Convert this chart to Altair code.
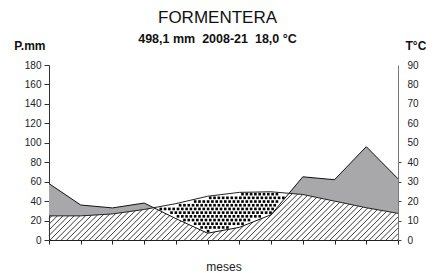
import altair as alt
import numpy as np
import pandas as pd

# ---- data ----
months = list(range(1, 13))
precip_mm = [58, 36, 33, 38, 22, 7, 13, 26, 65, 62, 96, 63]
temp_c = [12.4, 12.4, 13.4, 15.7, 18.7, 22.5, 24.5, 24.8, 23.4, 20.0, 16.6, 13.7]
p_ticks = list(range(0, 181, 20))
t_ticks = list(range(0, 91, 10))
title_text = "FORMENTERA"
subtitle_text = "498,1 mm\u00a0 2008-21\u00a0 18,0 °C"

# ---- layout ----
W, H = 349, 175
P_MAX, T_MAX = 180, 90
FONT = "Liberation Sans"
px_per_month = W / (len(months) - 1)
px_per_mm = H / P_MAX

# polyline of P and 2T with their crossing points (for the fills)
xs, ps, ts = [], [], []
for i in range(len(months)):
    x0, p0, t0 = months[i], precip_mm[i], 2 * temp_c[i]
    xs.append(x0); ps.append(p0); ts.append(t0)
    if i < len(months) - 1:
        p1, t1 = precip_mm[i + 1], 2 * temp_c[i + 1]
        d0, d1 = p0 - t0, p1 - t1
        if d0 * d1 < 0:
            f = d0 / (d0 - d1)
            xs.append(x0 + f); ps.append(p0 + f * (p1 - p0)); ts.append(t0 + f * (t1 - t0))
xs, ps, ts = np.array(xs), np.array(ps), np.array(ts)
lo = np.minimum(ps, ts)
fill_df = pd.DataFrame({"x": xs, "p": ps, "t2": ts, "lo": lo,
                        "gtop": np.maximum(ps, ts), "zero": 0.0})

# dotted texture inside the dry season (2T above P)
dx = 4.3 / px_per_month
dy = 3.7 / px_per_mm
mgn = 1.8 / px_per_mm
dots = []
for j in range(int(P_MAX / dy)):
    yv = 1.5 + j * dy
    for k in range(int(11 / dx) + 2):
        xv = 1 + k * dx + (j % 2) * dx / 2
        if xv > 12:
            continue
        pv = np.interp(xv, xs, ps)
        tv = np.interp(xv, xs, ts)
        if tv > pv and pv + mgn < yv < tv - mgn:
            dots.append((xv, yv))
dots_df = pd.DataFrame(dots, columns=["x", "y"])

# diagonal hatch under min(P, 2T): 45 degree segments clipped to that region
u = np.linspace(0, W, 7001)
lo_px = np.interp(1 + u / px_per_month, xs, lo) * px_per_mm
step = 5.6
segs = []
c = -lo_px[0] + step / 2
while c < W:
    u0 = max(c, 0.0)
    v0 = u0 - c
    f = lo_px - (u - c)
    idx = np.where((u > u0) & (f <= 0))[0]
    if len(idx):
        i1 = idx[0]
        fa, fb = f[i1 - 1], f[i1]
        ue = u[i1 - 1] + (u[i1] - u[i1 - 1]) * fa / (fa - fb)
    else:
        ue = W
    ve = ue - c
    if ue > u0 + 0.3:
        segs.append((1 + u0 / px_per_month, v0 / px_per_mm,
                     1 + ue / px_per_month, ve / px_per_mm))
    c += step
hatch_df = pd.DataFrame(segs, columns=["x", "y", "x2", "y2"])

line_df = pd.DataFrame({"x": months, "p": precip_mm, "t": temp_c})

xscale = alt.Scale(domain=[1, 12], nice=False, zero=False)
xaxis = alt.Axis(values=months, labels=False, tickSize=4, tickColor="#222",
                 domainColor="#222", grid=False, title="meses", titleFont=FONT,
                 titleFontSize=12, titleFontWeight="normal", titleColor="#222",
                 titleBaseline="alphabetic", titleY=30)
yscale = alt.Scale(domain=[0, P_MAX], nice=False)
yaxis = alt.Axis(values=p_ticks, grid=False, tickSize=5, tickColor="#333",
                 domainColor="#333", labelFont=FONT, labelFontSize=10,
                 labelColor="#222", labelPadding=3, title="P.mm", titleAngle=0,
                 titleAlign="right", titleBaseline="alphabetic", titleX=-4,
                 titleY=-16, titleFont=FONT, titleFontSize=12,
                 titleFontWeight="bold", titleColor="#111")

X = alt.X("x:Q", scale=xscale, axis=xaxis)

hatch_lines = alt.Chart(hatch_df).mark_rule(color="#3a3a3a", strokeWidth=1).encode(
    x=X, y=alt.Y("y:Q", scale=yscale, axis=yaxis), x2="x2:Q", y2="y2:Q")
gray_area = alt.Chart(fill_df).mark_area(color="#a8a8aa").encode(
    x=X, y=alt.Y("t2:Q", scale=yscale, axis=yaxis), y2="gtop:Q")
dot_marks = alt.Chart(dots_df).mark_square(size=7, color="#000", opacity=1).encode(
    x=X, y=alt.Y("y:Q", scale=yscale, axis=yaxis))
p_line = alt.Chart(line_df).mark_line(color="#111", strokeWidth=1).encode(
    x=X, y=alt.Y("p:Q", scale=yscale, axis=yaxis))

mm_layers = alt.layer(hatch_lines, gray_area, dot_marks, p_line)

t_line = alt.Chart(line_df).mark_line(color="#222", strokeWidth=1).encode(
    x=X,
    y=alt.Y("t:Q", scale=alt.Scale(domain=[0, T_MAX], nice=False),
            axis=alt.Axis(orient="right", values=t_ticks, grid=False, tickSize=3,
                          tickColor="#444",
                          tickOpacity={"condition": {"test": "datum.value <= 40", "value": 1}, "value": 0},
                          domainColor="#777", labelFont=FONT, labelFontSize=10,
                          labelColor="#222", labelPadding=6, title="T°C",
                          titleAngle=0, titleAlign="left", titleBaseline="alphabetic",
                          titleX=7, titleY=-16, titleFont=FONT, titleFontSize=12,
                          titleFontWeight="bold", titleColor="#111")))

chart = alt.layer(mm_layers, t_line).resolve_scale(
    y="independent"
).properties(
    width=W, height=H,
    title=alt.TitleParams(text=title_text, subtitle=subtitle_text, anchor="middle",
                          font=FONT, fontSize=17, fontWeight="normal", color="#111",
                          subtitleFont=FONT, subtitleFontSize=12.5,
                          subtitleFontWeight="bold", subtitleColor="#111",
                          subtitlePadding=6, offset=0, dx=-6, dy=7),
    autosize=alt.AutoSizeParams(type="none"),
    padding={"left": 41, "top": 57, "right": 28, "bottom": 33},
).configure_view(stroke=None)

chart.save("out.html", embed_options={"renderer": "svg", "actions": False})
